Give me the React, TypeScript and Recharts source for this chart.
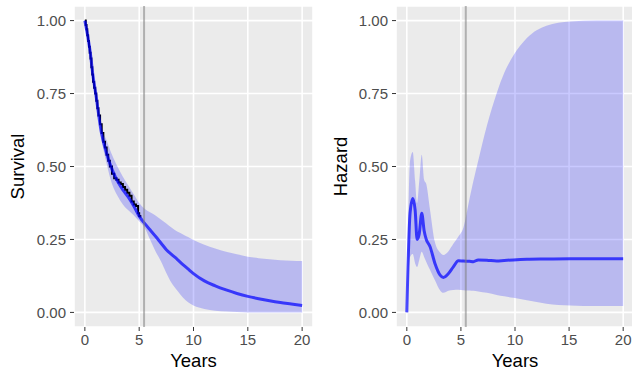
import React from "react"
import { Area, CartesianGrid, ComposedChart, Line, ReferenceLine, XAxis, YAxis } from "recharts"

// fitted survival (parametric) and its confidence band
const survTime = [0, 0.25, 0.5, 0.75, 1, 1.5, 2, 2.5, 3, 3.5, 4, 4.5, 5, 5.5, 6, 6.5, 7, 7.5, 8, 8.5, 9, 9.5, 10, 11, 12, 13, 14, 15, 16, 17, 18, 19, 20]
const survFit = [1, 0.95, 0.89, 0.81, 0.75, 0.62, 0.545, 0.49, 0.45, 0.42, 0.395, 0.365, 0.33, 0.305, 0.283, 0.261, 0.238, 0.215, 0.198, 0.182, 0.165, 0.149, 0.133, 0.108, 0.091, 0.077, 0.065, 0.055, 0.047, 0.04, 0.034, 0.029, 0.024]
const survLo = [1, 0.94, 0.88, 0.8, 0.74, 0.6, 0.51, 0.44, 0.4, 0.37, 0.35, 0.333, 0.312, 0.29, 0.25, 0.21, 0.175, 0.135, 0.1, 0.075, 0.052, 0.035, 0.024, 0.012, 0.006, 0.003, 0.001, 0, 0, 0, 0, 0, 0]
const survHi = [1, 0.96, 0.9, 0.82, 0.76, 0.64, 0.59, 0.54, 0.5, 0.465, 0.435, 0.405, 0.375, 0.355, 0.343, 0.332, 0.318, 0.305, 0.29, 0.277, 0.268, 0.258, 0.248, 0.232, 0.219, 0.208, 0.199, 0.191, 0.186, 0.182, 0.179, 0.177, 0.176]

// Kaplan-Meier estimate
const kmTime = [0, 0.08, 0.15, 0.22, 0.3, 0.38, 0.45, 0.52, 0.6, 0.68, 0.75, 0.85, 0.95, 1.05, 1.15, 1.25, 1.4, 1.55, 1.7, 1.85, 2.0, 2.15, 2.3, 2.5, 2.7, 2.9, 3.1, 3.3, 3.5, 3.7, 3.9, 4.1, 4.3, 4.5, 4.7, 4.9, 5.0, 5.1]
const kmSurv = [1, 0.985, 0.97, 0.95, 0.93, 0.91, 0.89, 0.87, 0.84, 0.815, 0.79, 0.77, 0.75, 0.725, 0.7, 0.675, 0.645, 0.615, 0.585, 0.565, 0.54, 0.52, 0.5, 0.475, 0.46, 0.455, 0.445, 0.44, 0.43, 0.42, 0.41, 0.4, 0.38, 0.37, 0.365, 0.34, 0.33, 0.325]

// hazard and its confidence band
const hazTime = [0, 0.3, 0.55, 0.77, 0.95, 1.15, 1.38, 1.6, 1.8, 2.15, 2.6, 3.08, 3.38, 3.85, 4.3, 4.77, 5.23, 5.8, 6.15, 6.6, 7.4, 8.3, 9, 9.85, 11.1, 12.9, 15.1, 17.5, 20]
const hazFit = [0, 0.34, 0.39, 0.35, 0.25, 0.27, 0.34, 0.28, 0.25, 0.225, 0.168, 0.128, 0.12, 0.133, 0.156, 0.177, 0.176, 0.175, 0.174, 0.18, 0.179, 0.176, 0.178, 0.18, 0.182, 0.183, 0.184, 0.184, 0.184]
const hazLo = [0, 0.19, 0.2, 0.168, 0.156, 0.18, 0.208, 0.19, 0.173, 0.145, 0.11, 0.075, 0.067, 0.074, 0.077, 0.078, 0.076, 0.075, 0.074, 0.072, 0.067, 0.06, 0.055, 0.05, 0.042, 0.03, 0.024, 0.022, 0.022]
const hazHi = [0, 0.52, 0.55, 0.45, 0.375, 0.45, 0.54, 0.455, 0.44, 0.35, 0.24, 0.205, 0.197, 0.21, 0.235, 0.26, 0.29, 0.39, 0.45, 0.52, 0.64, 0.75, 0.82, 0.88, 0.94, 0.982, 0.997, 1, 1]

const xTicks = [0, 5, 10, 15, 20]
const yTicks = [0, 0.25, 0.5, 0.75, 1]
const cutoff = 5.45

const survData = survTime.map((t, i) => ({ t, fit: survFit[i], band: [survLo[i], survHi[i]] }))
const kmData = kmTime.map((t, i) => ({ t, km: kmSurv[i] }))
const hazData = hazTime.map((t, i) => ({ t, fit: hazFit[i], band: [hazLo[i], hazHi[i]] }))

const font = "'Liberation Sans', Arial, sans-serif"
const tickStyle = { fill: "#4d4d4d", fontSize: 15, fontFamily: font }
const titleStyle = { fill: "#000", fontSize: 18.5, fontFamily: font, textAnchor: "middle" as const }

function Panel({ data, km, title, yWidth, width, labelOffset }: {
  data: { t: number; fit: number; band: number[] }[]
  km?: { t: number; km: number }[]
  title: string
  yWidth: number
  width: number
  labelOffset: number
}) {
  return (
    <ComposedChart width={width} height={371} margin={{ top: 6, right: 2, bottom: 0, left: 0 }}>
      <CartesianGrid fill="#ebebeb" stroke="#ffffff" strokeWidth={1.6} />
      <XAxis
        type="number"
        dataKey="t"
        domain={[-1, 21]}
        ticks={xTicks}
        allowDataOverflow
        height={44}
        axisLine={false}
        tickLine={{ stroke: "#333333" }}
        tickSize={4}
        tickMargin={3}
        tick={tickStyle}
        label={{ value: "Years", position: "insideBottom", offset: 4, style: titleStyle }}
      />
      <YAxis
        type="number"
        domain={[-0.05, 1.05]}
        ticks={yTicks}
        allowDataOverflow
        width={yWidth}
        axisLine={false}
        tickLine={{ stroke: "#333333" }}
        tickSize={4}
        tickMargin={4}
        tick={tickStyle}
        tickFormatter={(v: number) => v.toFixed(2)}
        label={{ value: title, angle: -90, position: "insideLeft", offset: labelOffset, style: titleStyle }}
      />
      <Area
        data={data}
        dataKey="band"
        type="monotone"
        stroke="none"
        fill="#0000ff"
        fillOpacity={0.21}
        isAnimationActive={false}
      />
      {km && (
        <Line
          data={km}
          dataKey="km"
          type="stepAfter"
          stroke="#000000"
          strokeWidth={2}
          dot={false}
          isAnimationActive={false}
        />
      )}
      <Line
        data={data}
        dataKey="fit"
        type="monotone"
        stroke="#0000ff"
        strokeOpacity={0.7}
        strokeWidth={3}
        dot={false}
        isAnimationActive={false}
      />
      <ReferenceLine x={cutoff} stroke="#7f7f7f" strokeOpacity={0.55} strokeWidth={2} />
    </ComposedChart>
  )
}

export default function App() {
  return (
    <div style={{ position: "fixed", left: 0, top: 0, width: 632, height: 371, overflow: "hidden", background: "#fff" }}>
      <div style={{ position: "absolute", left: 0, top: 0 }}>
        <Panel data={survData} km={kmData} title="Survival" yWidth={74} width={315} labelOffset={17.5} />
      </div>
      <div style={{ position: "absolute", left: 320, top: 0 }}>
        <Panel data={hazData} title="Hazard" yWidth={76} width={316} labelOffset={20.5} />
      </div>
    </div>
  )
}
